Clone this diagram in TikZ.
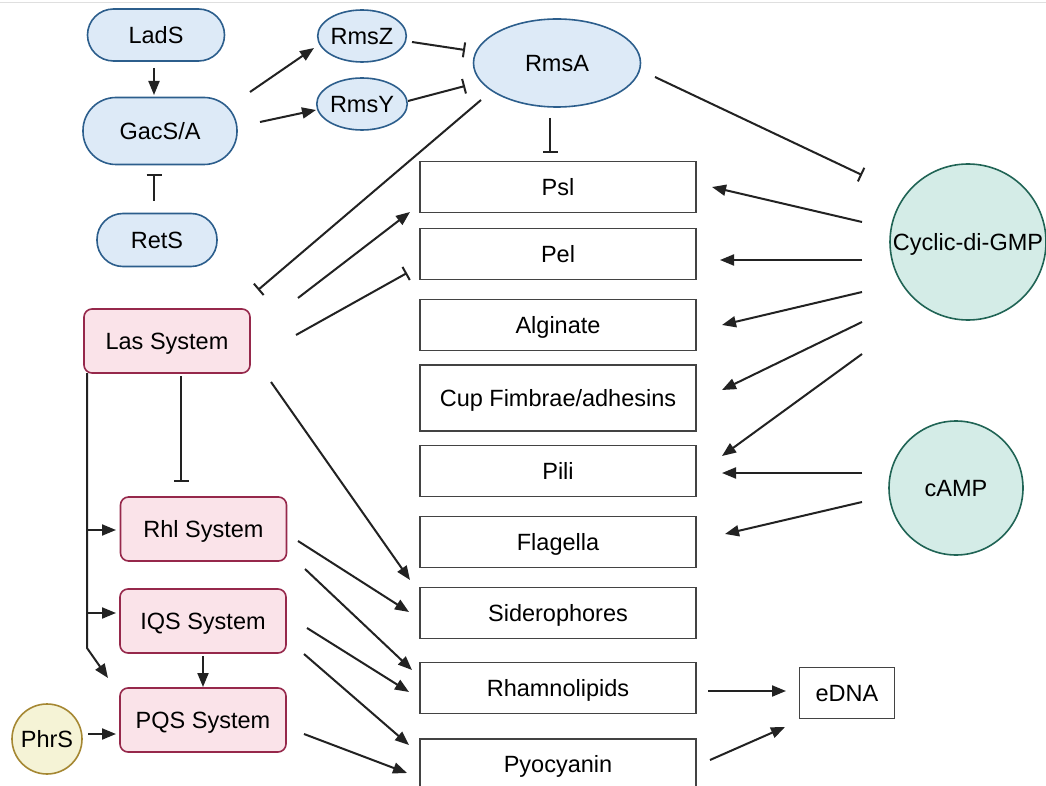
\documentclass[tikz,border=0pt]{standalone}
\usepackage{fontspec}
\setmainfont{Liberation Sans}
\usetikzlibrary{arrows.meta,shapes.geometric}
\definecolor{bfill}{RGB}{221,234,247}
\definecolor{bdraw}{RGB}{44,94,140}
\definecolor{pfill}{RGB}{250,227,233}
\definecolor{pdraw}{RGB}{150,40,75}
\definecolor{tfill}{RGB}{212,236,231}
\definecolor{tdraw}{RGB}{32,100,85}
\definecolor{yfill}{RGB}{245,243,214}
\definecolor{ydraw}{RGB}{165,135,50}
\definecolor{ink}{RGB}{34,34,34}
\tikzset{
  txt/.style={text height=16.8pt, text depth=0pt},
  bluecap/.style={txt, draw=bdraw, fill=bfill, line width=1.6pt, inner sep=0pt},
  blueell/.style={txt, ellipse, draw=bdraw, fill=bfill, line width=1.6pt, inner sep=0pt},
  pinkbox/.style={txt, draw=pdraw, fill=pfill, line width=1.6pt, rounded corners=8pt, minimum width=166pt, minimum height=64pt, inner sep=0pt},
  outbox/.style={txt, draw=ink!85, line width=1.3pt, minimum width=276pt, minimum height=51pt, inner sep=0pt},
  tealcirc/.style={txt, circle, draw=tdraw, fill=tfill, line width=1.6pt, inner sep=0pt},
  act/.style={draw=ink, line width=2pt, -{Triangle[length=14pt,width=11pt]}},
  inh/.style={draw=ink, line width=2pt, -{Bar[width=15pt]}}
}
\begin{document}
\begin{tikzpicture}[x=1pt,y=-1pt,font=\fontsize{23.5}{28}\selectfont]
\useasboundingbox (0,0) rectangle (1046,786);
\clip (0,0) rectangle (1046,786);
\fill[white] (0,0) rectangle (1046,786);
\draw[gray!25, line width=1pt] (0,3) -- (1046,3);

% upper-left regulators
\node[bluecap, minimum width=137pt, minimum height=52pt, rounded corners=26pt] (lads) at (156,35) {LadS};
\node[bluecap, minimum width=154pt, minimum height=67pt, rounded corners=33pt] (gacs) at (160,131) {GacS/A};
\node[bluecap, minimum width=120pt, minimum height=53pt, rounded corners=26pt] (rets) at (157,240) {RetS};
\node[blueell, minimum width=84pt, minimum height=52pt] (rmsz) at (362,36) {RmsZ};
\node[blueell, minimum width=84pt, minimum height=52pt] (rmsy) at (362,104) {RmsY};
\node[blueell, minimum width=167pt, minimum height=88pt] (rmsa) at (557,63) {RmsA};

% outputs
\node[outbox] (psl) at (558,187) {Psl};
\node[outbox] (pel) at (558,254) {Pel};
\node[outbox] (alg) at (558,325) {Alginate};
\node[outbox, minimum height=66pt] (cup) at (558,398) {Cup Fimbrae/adhesins};
\node[outbox] (pili) at (558,471) {Pili};
\node[outbox] (flag) at (558,542) {Flagella};
\node[outbox] (sid) at (558,613) {Siderophores};
\node[outbox] (rham) at (558,688) {Rhamnolipids};
\node[outbox] (pyo) at (558,764.5) {Pyocyanin};
\node[outbox, minimum width=95pt] (edna) at (847,693) {eDNA};

% second messengers
\node[tealcirc, minimum size=156pt] (cdg) at (968,242) {\makebox[0pt]{Cyclic-di-GMP}};
\node[tealcirc, minimum size=134pt] (camp) at (956,488) {cAMP};

% quorum sensing
\node[pinkbox] (las) at (167,341) {Las System};
\node[pinkbox] (rhl) at (203.5,529) {Rhl System};
\node[pinkbox] (iqs) at (203,621) {IQS System};
\node[pinkbox] (pqs) at (203,720) {PQS System};
\node[txt, circle, draw=ydraw, fill=yfill, line width=1.6pt, minimum size=70pt, inner sep=0pt] (phrs) at (47,739) {PhrS};

% regulator connectors
\draw[act] ([shift={(-2,33)}]lads.center) -- ([shift={(-6,-36)}]gacs.center);
\draw[inh] ([shift={(-3,-39)}]rets.center) -- ([shift={(-6,43)}]gacs.center);
\draw[act] ([shift={(90,-39)}]gacs.center) -- ([shift={(-48,12)}]rmsz.center);
\draw[act] ([shift={(100,-9)}]gacs.center) -- ([shift={(-46,6)}]rmsy.center);
\draw[inh] ([shift={(50,6)}]rmsz.center) -- ([shift={(-92,-13)}]rmsa.center);
\draw[inh] ([shift={(46,-3)}]rmsy.center) -- ([shift={(-92,23)}]rmsa.center);
\draw[inh] ([shift={(-7,55)}]rmsa.center) -- ([shift={(-8,-34)}]psl.center);
\draw[inh] ([shift={(98,14)}]rmsa.center) -- ([shift={(-106,-67)}]cdg.center);
\draw[inh] ([shift={(-76,37)}]rmsa.center) -- ([shift={(91,-51)}]las.center);

% Las connectors
\draw[act] ([shift={(131,-43)}]las.center) -- ([shift={(-148,25)}]psl.center);
\draw[inh] ([shift={(129,-6)}]las.center) -- ([shift={(-151,19)}]pel.center);
\draw[act] ([shift={(104,41)}]las.center) -- ([shift={(-148,-33)}]sid.center);
\draw[inh] ([shift={(14,35)}]las.center) -- ([shift={(-22.5,-47)}]rhl.center);
\draw[act] ([shift={(-80,32)}]las.center) -- ([shift={(-80,307)}]las.center) -- ([shift={(-95,-42)}]pqs.center);
\draw[act] ([shift={(-80,189)}]las.center) -- ([shift={(-87.5,1)}]rhl.center);
\draw[act] ([shift={(-80,272)}]las.center) -- ([shift={(-87,-8)}]iqs.center);

% other QS connectors
\draw[act] ([shift={(0,35)}]iqs.center) -- ([shift={(0,-33)}]pqs.center);
\draw[act] ([shift={(41,-5)}]phrs.center) -- ([shift={(-87,14)}]pqs.center);
\draw[act] ([shift={(94.5,12)}]rhl.center) -- ([shift={(-149,-1)}]sid.center);
\draw[act] ([shift={(101.5,40)}]rhl.center) -- ([shift={(-146,-18)}]rham.center);
\draw[act] ([shift={(104,7)}]iqs.center) -- ([shift={(-149,4)}]rham.center);
\draw[act] ([shift={(101,33)}]iqs.center) -- ([shift={(-149,-19.5)}]pyo.center);
\draw[act] ([shift={(101,14)}]pqs.center) -- ([shift={(-151,8.5)}]pyo.center);

% second messenger connectors
\draw[act] ([shift={(-106,-20)}]cdg.center) -- ([shift={(154,0)}]psl.center);
\draw[act] ([shift={(-106,18)}]cdg.center) -- ([shift={(162,6)}]pel.center);
\draw[act] ([shift={(-106,50)}]cdg.center) -- ([shift={(164,0)}]alg.center);
\draw[act] ([shift={(-106,80)}]cdg.center) -- ([shift={(164,-8)}]cup.center);
\draw[act] ([shift={(-106,112)}]cdg.center) -- ([shift={(164,-15)}]pili.center);
\draw[act] ([shift={(-94,-15)}]camp.center) -- ([shift={(164,2)}]pili.center);
\draw[act] ([shift={(-94,14)}]camp.center) -- ([shift={(167,-8)}]flag.center);

% eDNA
\draw[act] ([shift={(150,3)}]rham.center) -- ([shift={(-61,-2)}]edna.center);
\draw[act] ([shift={(152,-4.5)}]pyo.center) -- ([shift={(-62,34)}]edna.center);
\end{tikzpicture}
\end{document}
